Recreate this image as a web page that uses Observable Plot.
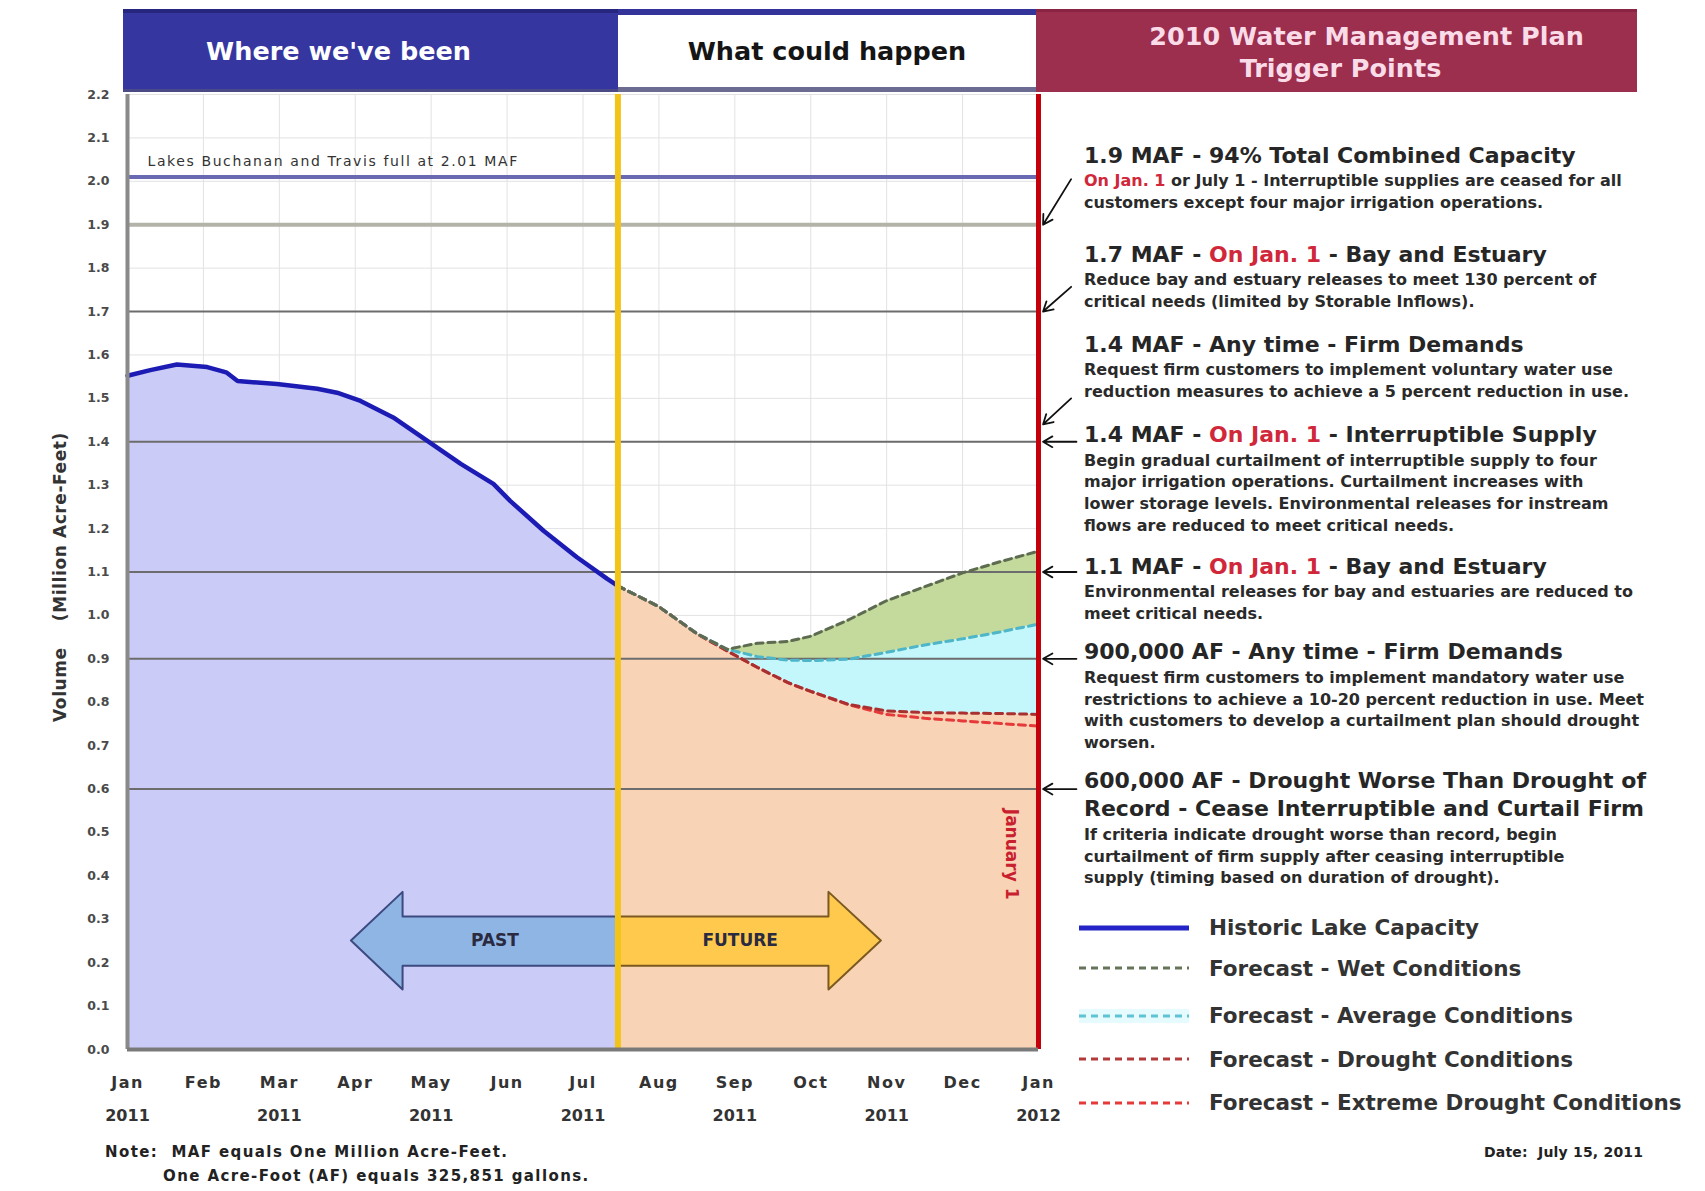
<!DOCTYPE html>
<html>
<head>
<meta charset="utf-8">
<script src="https://cdn.jsdelivr.net/npm/d3@7"></script>
<script src="https://cdn.jsdelivr.net/npm/@observablehq/plot@0.6"></script>
<style>
  body { margin: 0; background: #fff; font-family: "DejaVu Sans", "Liberation Sans", Arial, sans-serif; }
  #wrap { position: relative; width: 1705px; height: 1191px; overflow: hidden; background: #fff; }
  #chart { position: absolute; left: 0; top: 0; }
  .hdr { position: absolute; top: 9px; height: 83px; box-sizing: border-box; display: flex; flex-direction: column; align-items: center;
         justify-content: center; text-align: center; font-weight: bold; font-size: 25.5px; line-height: 32px; }
  .blk { position: absolute; left: 1084px; color: #222; }
  .blk .h { font-size: 22px; font-weight: bold; line-height: 28.5px; color: #262626; white-space: nowrap; }
  .blk .s { font-size: 16px; font-weight: bold; line-height: 21.7px; color: #2a2a2a; white-space: nowrap; }
  .red { color: #d0283a; }
  .leg { position: absolute; left: 1079px; height: 30px; display: flex; align-items: center; }
  .leg span { margin-left: 20px; font-size: 21.5px; font-weight: bold; color: #333; white-space: nowrap; }
  .note { position: absolute; font-size: 15px; letter-spacing: 1.4px; font-weight: bold; color: #222; white-space: nowrap; }
</style>
</head>
<body>
<div id="wrap">
  <div id="chart"></div>
</div>
<script>
// ---------- data ----------
const monthLabels = ["Jan","Feb","Mar","Apr","May","Jun","Jul","Aug","Sep","Oct","Nov","Dec","Jan"];
const yearLabels  = ["2011","","2011","","2011","","2011","","2011","","2011","","2012"];
const monthTicks  = [0,1,2,3,4,5,6,7,8,9,10,11,12];
const yearTicks   = [0,2,4,6,8,10,12];
const yTicks      = [0,0.1,0.2,0.3,0.4,0.5,0.6,0.7,0.8,0.9,1.0,1.1,1.2,1.3,1.4,1.5,1.6,1.7,1.8,1.9,2.0,2.1,2.2];

// historic lake storage (x = months since Jan 1 2011, y = MAF)
const histMonths = [0, 0.3, 0.65, 1.05, 1.3, 1.45, 1.97, 2.5, 2.76, 3.07, 3.5, 3.95, 4.39, 4.82, 5.04, 5.48, 5.92, 6.32, 6.46];
const histValues = [1.552, 1.565, 1.578, 1.572, 1.560, 1.540, 1.533, 1.522, 1.513, 1.494, 1.456, 1.402, 1.349, 1.303, 1.264, 1.195, 1.134, 1.084, 1.068];

// forecasts
const fcMonths  = [6.46, 7.0, 7.5, 7.9, 8.3, 8.7, 9.0, 9.5, 10.0, 10.5, 11.0, 11.5, 12.0];
const fcWet     = [1.068, 1.020, 0.958, 0.922, 0.936, 0.940, 0.952, 0.990, 1.034, 1.066, 1.098, 1.124, 1.148];
const fcAverage = [1.068, 1.020, 0.958, 0.922, 0.905, 0.897, 0.896, 0.899, 0.915, 0.932, 0.946, 0.962, 0.980];
const fcDrought = [1.068, 1.020, 0.958, 0.918, 0.880, 0.845, 0.825, 0.795, 0.780, 0.776, 0.775, 0.774, 0.772];
const fcExtreme = [1.068, 1.020, 0.958, 0.918, 0.880, 0.845, 0.825, 0.794, 0.772, 0.763, 0.757, 0.751, 0.745];

const todayMonth = 6.46;     // July 15, 2011
const yearEndMonth = 12;     // Jan 1, 2012
const fullLevel = 2.01;
const fullLabel = "Lakes Buchanan and Travis full at 2.01 MAF";
const triggerLevels = [1.9, 1.7, 1.4, 1.1, 0.9, 0.6];

// leader arrows from the trigger text to the Jan 1 line
const leaderFromX = [12.43, 12.43, 12.43, 12.5, 12.5, 12.5, 12.5];
const leaderFromY = [2.005, 1.757, 1.50, 1.40, 1.10, 0.90, 0.60];
const leaderToY   = [1.90, 1.70, 1.44, 1.40, 1.10, 0.90, 0.60];
const leaderToX   = 12.06;

// PAST / FUTURE arrows (in chart units)
const arrowLabels   = ["PAST", "FUTURE"];
const arrowTip      = [2.95, 9.93];
const arrowHeadBase = [3.63, 9.24];
const arrowLabelX   = [4.84, 8.07];
const arrowShaft    = [0.192, 0.305];
const arrowHead     = [0.137, 0.362];
const arrowMid      = 0.25;

// right-hand panel text
const triggerBlocks = [
  {top: 141.5, head: ["1.9 MAF - 94% Total Combined Capacity"],
   sub: ["<span class='red'>On Jan. 1</span> or July 1 - Interruptible supplies are ceased for all", "customers except four major irrigation operations."]},
  {top: 240.5, head: ["1.7 MAF - <span class='red'>On Jan. 1</span> - Bay and Estuary"],
   sub: ["Reduce bay and estuary releases to meet 130 percent of", "critical needs (limited by Storable Inflows)."]},
  {top: 330.7, head: ["1.4 MAF - Any time - Firm Demands"],
   sub: ["Request firm customers to implement voluntary water use", "reduction measures to achieve a 5 percent reduction in use."]},
  {top: 421, head: ["1.4 MAF - <span class='red'>On Jan. 1</span> - Interruptible Supply"],
   sub: ["Begin gradual curtailment of interruptible supply to four", "major irrigation operations.  Curtailment increases with", "lower storage levels.  Environmental releases for instream", "flows are reduced to meet critical needs."]},
  {top: 552.5, head: ["1.1 MAF - <span class='red'>On Jan. 1</span> - Bay and Estuary"],
   sub: ["Environmental releases for bay and estuaries are reduced to", "meet critical needs."]},
  {top: 638.4, head: ["900,000 AF - Any time - Firm Demands"],
   sub: ["Request firm customers to implement mandatory water use", "restrictions to achieve a 10-20 percent reduction in use. Meet", "with customers to develop a curtailment plan should drought", "worsen."]},
  {top: 766.8, head: ["600,000 AF - Drought Worse Than Drought of", "Record - Cease Interruptible and Curtail Firm"],
   sub: ["If criteria indicate drought worse than record, begin", "curtailment of firm supply after ceasing interruptible", "supply (timing based on duration of drought)."]}
];

const legendNames  = ["Historic Lake Capacity", "Forecast - Wet Conditions", "Forecast - Average Conditions", "Forecast - Drought Conditions", "Forecast - Extreme Drought Conditions"];
const legendColors = ["#2424c8", "#66745a", "#5fc3d6", "#b23a3a", "#e63a3a"];
const legendDash   = [null, "7,5", "7,5", "7,5", "7,5"];
const legendY      = [927.6, 968, 1015.6, 1059, 1102.6];

// ---------- tables ----------
const hist = histMonths.map((m, i) => ({m, v: histValues[i]}));
const fc = fcMonths.map((m, i) => ({m, wet: fcWet[i], avg: fcAverage[i], drought: fcDrought[i], extreme: fcExtreme[i]}));
const leaders = leaderFromX.map((x, i) => ({x1: x, y1: leaderFromY[i], x2: leaderToX, y2: leaderToY[i]}));
function arrowShape(i) {
  return [
    {x: arrowTip[i], y1: arrowMid, y2: arrowMid},
    {x: arrowHeadBase[i], y1: arrowHead[0], y2: arrowHead[1]},
    {x: arrowHeadBase[i], y1: arrowShaft[0], y2: arrowShaft[1]},
    {x: todayMonth, y1: arrowShaft[0], y2: arrowShaft[1]}
  ];
}
const arrowText = arrowLabels.map((t, i) => ({t, x: arrowLabelX[i]}));

// ---------- chart ----------
const chart = Plot.plot({
  width: 1705,
  height: 1191,
  marginTop: 94,
  marginBottom: 142,
  marginLeft: 127,
  marginRight: 667,
  style: {fontFamily: "'DejaVu Sans', 'Liberation Sans', Arial, sans-serif", background: "transparent", overflow: "visible"},
  x: {domain: [0, 12]},
  y: {domain: [0, 2.2]},
  marks: [
    Plot.gridY(yTicks, {stroke: "#e2e2e2", strokeOpacity: 1}),
    Plot.gridX(monthTicks, {stroke: "#e2e2e2", strokeOpacity: 1}),
    Plot.areaY(hist, {x: "m", y: "v", fill: "#cbcbf7"}),
    Plot.areaY(fc, {x: "m", y: "drought", fill: "#f9d3b5"}),
    Plot.areaY(fc, {x: "m", y1: "drought", y2: "avg", fill: "#c3f7fb"}),
    Plot.areaY(fc, {x: "m", y1: "avg", y2: "wet", fill: "#c4d99c"}),
    Plot.ruleY(triggerLevels.filter(d => d !== 1.9), {stroke: "#6c6c6c", strokeWidth: 2}),
    Plot.ruleY(triggerLevels.filter(d => d === 1.9), {stroke: "#b3b3aa", strokeWidth: 4}),
    Plot.ruleY([fullLevel], {stroke: "#6a6ab2", strokeWidth: 4}),
    Plot.text([fullLabel], {x: 0, y: fullLevel, dx: 20, dy: -15, textAnchor: "start", fontSize: 14, fill: "#333"}),
    Plot.line(fc, {x: "m", y: "extreme", stroke: "#e63a3a", strokeWidth: 3, strokeDasharray: "7,5"}),
    Plot.line(fc, {x: "m", y: "drought", stroke: "#a83030", strokeWidth: 3, strokeDasharray: "7,5"}),
    Plot.line(fc, {x: "m", y: "avg", stroke: "#4fb6c8", strokeWidth: 3, strokeDasharray: "7,5"}),
    Plot.line(fc, {x: "m", y: "wet", stroke: "#5d6b50", strokeWidth: 3, strokeDasharray: "7,5"}),
    Plot.line(hist, {x: "m", y: "v", stroke: "#1c1cb4", strokeWidth: 4.5}),
    Plot.areaY(arrowShape(0), {x: "x", y1: "y1", y2: "y2", fill: "#8fb5e4", stroke: "#3c4a80", strokeWidth: 2}),
    Plot.areaY(arrowShape(1), {x: "x", y1: "y1", y2: "y2", fill: "#ffc94e", stroke: "#7a5a20", strokeWidth: 2}),
    Plot.text(arrowText, {x: "x", y: arrowMid, text: "t", fontSize: 17, fontWeight: "bold", fill: "#2a2a40"}),
    Plot.ruleX([todayMonth], {stroke: "#f2c318", strokeWidth: 6}),
    Plot.ruleX([yearEndMonth], {stroke: "#c4000c", strokeWidth: 5}),
    Plot.text(["January 1"], {x: 11.65, y: 0.45, rotate: 90, fill: "#c8202e", fontSize: 17, fontWeight: "bold"}),
    Plot.ruleX([0], {stroke: "#8a8a8a", strokeWidth: 4}),
    Plot.ruleY([0], {stroke: "#7a7a7a", strokeWidth: 4}),
    Plot.arrow(leaders, {x1: "x1", y1: "y1", x2: "x2", y2: "y2", stroke: "#111", strokeWidth: 1.8, headLength: 9}),
    Plot.axisY(yTicks, {tickSize: 0, tickPadding: 18, tickFormat: d3.format(".1f"), fontSize: 12.5, fontWeight: "bold", fill: "#4a4a4a", label: null}),
    Plot.axisX(monthTicks, {tickSize: 0, tickPadding: 27, tickFormat: d => monthLabels[d], fontSize: 16, fontWeight: "bold", fill: "#333", label: null}),
    Plot.axisX(yearTicks, {tickSize: 0, tickPadding: 60, tickFormat: d => yearLabels[d], fontSize: 16, fontWeight: "bold", fill: "#333", label: null}),
    Plot.text(["Volume\u00a0\u00a0\u00a0\u00a0(Million Acre-Feet)"], {frameAnchor: "left", textAnchor: "middle", dx: -67, dy: 5, rotate: -90,
      fontSize: 17, fontWeight: "bold", fill: "#333"})
  ]
});
document.getElementById("chart").appendChild(chart);

// widen a few labels to match the reference's stretched lettering
d3.select(chart).selectAll("text").each(function() {
  const t = this.textContent;
  if (t === fullLabel) this.setAttribute("letter-spacing", "1.6");
  else if (monthLabels.includes(t)) this.setAttribute("letter-spacing", "1.5");
  else if (t.startsWith("Volume")) this.setAttribute("letter-spacing", "0.6");
});

// ---------- header, panel, legend, notes (HTML) ----------
const wrap = document.getElementById("wrap");
function addDiv(cls, style, html) {
  const d = document.createElement("div");
  d.className = cls;
  Object.assign(d.style, style);
  d.innerHTML = html;
  wrap.appendChild(d);
  return d;
}
addDiv("hdr", {left: "123px", width: "495px", background: "#3636a0", color: "#ffffff", borderTop: "4px solid #26267e", borderBottom: "3px solid #4a4a86", paddingRight: "64px"}, "Where we've been");
addDiv("hdr", {left: "618px", width: "418px", background: "#ffffff", color: "#151515", borderTop: "6px solid #33339a", borderBottom: "5px solid #6c6c92"}, "What could happen");
addDiv("hdr", {left: "1036px", width: "601px", background: "#9c2e4e", color: "#fadbe8", borderTop: "3px solid #8a2444"},
  "<div style='position:relative;left:30px'>2010 Water Management Plan</div><div style='position:relative;left:4px'>Trigger Points</div>");

triggerBlocks.forEach(b => {
  const html = b.head.map(h => `<div class="h">${h}</div>`).join("") + b.sub.map(s => `<div class="s">${s}</div>`).join("");
  addDiv("blk", {top: b.top + "px"}, html);
});

legendNames.forEach((name, i) => {
  const dash = legendDash[i] ? `stroke-dasharray="${legendDash[i]}"` : "";
  const sw = i === 0 ? 5 : 3;
  const bg = i === 2 ? "background:#e6fbfd;" : "";
  addDiv("leg", {top: (legendY[i] - 15) + "px"},
    `<svg width="110" height="14" style="${bg}"><line x1="0" x2="110" y1="7" y2="7" stroke="${legendColors[i]}" stroke-width="${sw}" ${dash}/></svg><span>${name}</span>`);
});

addDiv("note", {left: "105px", top: "1143px"}, "Note:&nbsp; MAF equals One Million Acre-Feet.");
addDiv("note", {left: "163px", top: "1167px"}, "One Acre-Foot (AF) equals 325,851 gallons.");
addDiv("note", {left: "1484px", top: "1144px", fontSize: "14px", letterSpacing: "0.2px"}, "Date:&nbsp; July 15, 2011");
</script>
</body>
</html>
